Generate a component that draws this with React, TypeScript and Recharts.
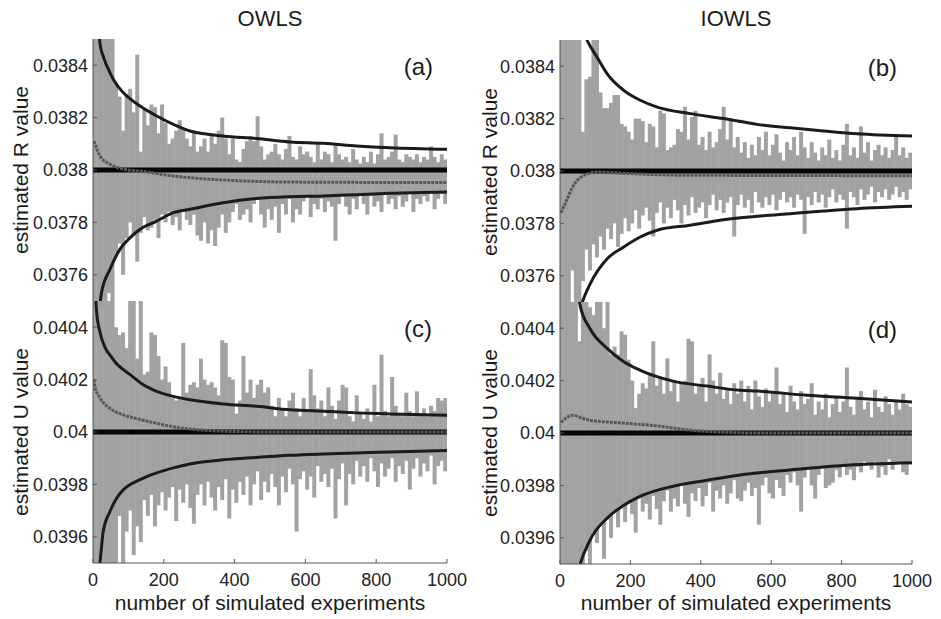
import React from 'react';
import { ComposedChart, Bar, Line, XAxis, YAxis, ReferenceLine } from 'recharts';

// one gray bar every 10 simulated experiments (N = 5, 15, ... 995)
const barN = Array.from({ length: 100 }, (_, i) => 5 + 10 * i);

// all spreads below are deviations from the true value, in units of 1e-6
const trueR = 0.038;
const trueU = 0.04;

// (a) OWLS, R
const aHigh = [
  600, 600, 600, 600, 520, 600, 330, 280, 150, 290, 310, 220, 440, 70, 230, 170, 250, 240, 140, 250,
  180, 100, 120, 150, 190, 160, 120, 90, 150, 70, 90, 120, 70, 140, 100, 150, 200, 120, 60, 120,
  40, 30, 80, 110, 130, 110, 205, 90, 40, 60, 70, 100, 60, 40, 80, 130, 50, 40, 90, 60,
  70, 50, 30, 100, 40, 70, 60, 30, 100, 60, 40, 50, 30, 80, 40, 25, 50, 30, 70, 25,
  60, 140, 40, 50, 70, 135, 40, 30, 60, 50, 40, 60, 30, 50, 40, 90, 50, 30, 60, 40,
];
const aLow = [
  -600, -600, -600, -600, -470, -600, -330, -280, -400, -260, -200, -250, -350, -240, -180, -230, -220, -190, -260, -170,
  -200, -160, -210, -180, -230, -150, -190, -210, -170, -250, -270, -200, -280, -230, -290, -220, -170, -240, -200, -160,
  -130, -190, -170, -150, -200, -130, -110, -170, -220, -150, -190, -140, -240, -130, -170, -110, -200, -150, -170, -120,
  -100, -180, -130, -150, -110, -160, -120, -140, -270, -130, -100, -140, -170, -110, -150, -90, -130, -170, -100, -140,
  -120, -160, -90, -130, -110, -150, -100, -140, -120, -90, -160, -110, -130, -100, -120, -80, -150, -110, -90, -130,
];
const aUpper = [[12, 600], [20, 480], [30, 430], [48, 371], [70, 320], [86, 295], [133, 244], [180, 206], [227, 174], [274, 149], [368, 130], [462, 120], [557, 107], [651, 102], [745, 92], [839, 85], [1000, 79]];
const aLower = [[14, -600], [24, -468], [48, -379], [76, -303], [105, -258], [133, -226], [180, -195], [227, -163], [274, -150], [368, -125], [462, -109], [557, -102], [651, -99], [745, -94], [839, -89], [1000, -84]];
const aMean = [[3, 110], [20, 53], [48, 22], [86, 3], [133, -4], [227, -23], [368, -38], [557, -46], [1000, -48]];

// (b) IOWLS, R
const bHigh = [
  600, 600, 600, 600, 600, 600, 150, 350, 360, 600, 600, 300, 240, 240, 260, 290, 290, 180, 170, 150,
  120, 200, 200, 190, 110, 180, 170, 90, 230, 220, 80, 90, 100, 160, 150, 245, 120, 206, 230, 100,
  130, 80, 150, 90, 110, 160, 245, 120, 200, 90, 130, 70, 110, 50, 100, 60, 130, 80, 150, 60,
  100, 140, 70, 40, 110, 80, 130, 60, 150, 90, 50, 110, 70, 40, 90, 60, 120, 50, 80, 40,
  100, 180, 60, 90, 50, 170, 70, 110, 40, 80, 100, 60, 90, 50, 80, 130, 60, 90, 50, 70,
];
const bLow = [
  -600, -600, -600, -380, -600, -600, -420, -300, -380, -280, -330, -250, -300, -220, -260, -200, -290, -240, -180, -230,
  -200, -150, -220, -170, -140, -190, -250, -160, -120, -200, -140, -180, -110, -150, -200, -130, -170, -100, -160, -140,
  -120, -180, -130, -90, -150, -110, -160, -120, -100, -250, -130, -90, -140, -110, -160, -80, -120, -140, -100, -130,
  -90, -150, -110, -80, -120, -100, -140, -90, -110, -240, -100, -130, -80, -120, -90, -140, -100, -70, -120, -90,
  -110, -220, -80, -100, -130, -70, -110, -90, -60, -120, -80, -100, -70, -110, -90, -60, -100, -80, -110, -70,
];
const bUpper = [[50, 620], [60, 560], [77, 499], [105, 435], [134, 371], [181, 308], [228, 270], [276, 244], [370, 219], [465, 200], [560, 178], [654, 165], [749, 153], [844, 142], [1000, 134]];
const bLower = [[40, -620], [62, -506], [86, -430], [134, -335], [181, -290], [228, -252], [276, -226], [370, -207], [465, -186], [560, -173], [654, -163], [749, -153], [844, -144], [1000, -135]];
const bMean = [[3, -160], [20, -108], [37, -58], [65, -19], [105, -4], [200, -10], [350, -16], [1000, -18]];

// (c) OWLS, U
const cHigh = [
  600, 600, 600, 600, 600, 600, 400, 370, 380, 320, 600, 600, 280, 600, 220, 230, 380, 370, 290, 200,
  250, 190, 130, 120, 130, 340, 150, 180, 190, 170, 280, 200, 180, 190, 170, 140, 350, 340, 210, 200,
  70, 120, 290, 150, 200, 130, 180, 200, 150, 170, 100, 60, 130, 90, 60, 120, 150, 90, 60, 130,
  80, 240, 140, 90, 120, 60, 170, 100, 50, 120, 180, 170, 60, 40, 140, 70, 50, 90, 40, 180,
  60, 295, 80, 60, 210, 100, 70, 60, 150, 80, 60, 155, 70, 90, 60, 100, 80, 130, 120, 130,
];
const cLow = [
  -600, -600, -600, -600, -600, -600, -600, -320, -600, -380, -300, -470, -360, -420, -260, -320, -240, -360, -280, -230,
  -300, -250, -210, -340, -220, -270, -200, -290, -350, -240, -200, -280, -190, -250, -300, -210, -260, -180, -330, -220,
  -270, -190, -240, -170, -280, -200, -150, -260, -190, -230, -160, -210, -280, -170, -230, -140, -200, -380, -180, -150,
  -220, -170, -250, -130, -190, -160, -210, -140, -330, -180, -120, -280, -160, -200, -110, -170, -130, -190, -100, -150,
  -210, -120, -170, -140, -100, -190, -130, -160, -110, -220, -140, -100, -170, -120, -150, -90, -200, -130, -110, -150,
];
const cUpper = [[5, 600], [10, 460], [20, 380], [35, 320], [50, 290], [67, 260], [86, 238], [105, 219], [142, 180], [180, 155], [227, 136], [274, 123], [368, 107], [462, 98], [557, 85], [651, 79], [745, 73], [839, 69], [1000, 64]];
const cLower = [[10, -600], [20, -494], [29, -379], [48, -303], [67, -252], [86, -220], [133, -182], [180, -156], [227, -137], [274, -122], [368, -106], [462, -97], [557, -89], [651, -84], [745, -80], [839, -76], [1000, -71]];
const cMean = [[3, 200], [6, 170], [20, 130], [48, 90], [86, 65], [133, 48], [180, 33], [227, 20], [300, 8], [400, 2], [500, 0], [1000, 0]];

// (d) IOWLS, U
const dHigh = [
  600, 600, 600, 600, 600, 350, 600, 520, 480, 450, 600, 600, 400, 600, 300, 330, 300, 388, 375, 280,
  200, 95, 150, 190, 170, 230, 350, 180, 210, 150, 285, 160, 200, 120, 190, 200, 360, 350, 150, 180,
  210, 120, 300, 200, 150, 230, 130, 170, 110, 190, 150, 200, 120, 180, 90, 200, 140, 100, 170, 120,
  160, 250, 110, 150, 80, 180, 120, 90, 160, 110, 130, 190, 70, 120, 90, 150, 60, 110, 140, 80,
  120, 250, 100, 70, 130, 160, 90, 120, 60, 165, 100, 80, 140, 110, 70, 120, 90, 150, 110, 100,
];
const dLow = [
  -600, -600, -600, -600, -600, -600, -600, -450, -520, -380, -420, -350, -480, -330, -400, -300, -360, -280, -340, -260,
  -310, -380, -250, -300, -270, -330, -240, -290, -350, -260, -220, -300, -250, -280, -200, -270, -320, -230, -260, -210,
  -280, -240, -190, -300, -220, -250, -200, -270, -230, -180, -250, -260, -220, -190, -240, -210, -350, -200, -170, -230,
  -250, -180, -210, -240, -160, -190, -150, -200, -300, -170, -140, -200, -250, -160, -130, -210, -200, -190, -140, -170,
  -120, -160, -140, -180, -130, -150, -110, -120, -140, -110, -170, -130, -160, -100, -140, -120, -110, -150, -160, -120,
];
const dUpper = [[30, 700], [50, 560], [57, 487], [85, 399], [134, 323], [179, 274], [227, 240], [321, 198], [418, 179], [511, 163], [560, 160], [702, 144], [844, 133], [1000, 118]];
const dLower = [[30, -700], [50, -540], [85, -410], [134, -325], [179, -278], [227, -242], [321, -203], [418, -180], [511, -160], [653, -141], [795, -125], [1000, -114]];
const dMean = [[3, 40], [15, 55], [37, 68], [60, 58], [85, 49], [179, 38], [276, 27], [369, 11], [460, 3], [560, 0], [1000, 0]];

const xTicks = [0, 200, 400, 600, 800, 1000];
const rTicks = [0.0376, 0.0378, 0.038, 0.0382, 0.0384];
const uTicks = [0.0396, 0.0398, 0.04, 0.0402, 0.0404];

const FONT = '"Liberation Sans", Arial, sans-serif';
const blank = () => <g />;

// recharts squeezes the bands on a number axis, so draw each spread at a fixed width
const SpreadBar = (props: any) => {
  const { x, y, width, height } = props;
  if (height == null || !isFinite(height)) return <g />;
  const top = height < 0 ? y + height : y;
  return <rect x={x + width / 2 - 2} y={top} width={4} height={Math.abs(height)} fill="#a2a2a2" />;
};

type Pt = number[];

const barRows = (truth: number, hi: number[], lo: number[]) =>
  barN.map((n, i) => ({ n, bar: [truth + lo[i] * 1e-6, truth + hi[i] * 1e-6] }));

const curveRows = (truth: number, pts: Pt[]) => pts.map(([n, v]) => ({ n, v: truth + v * 1e-6 }));

interface PanelProps {
  left: number;
  top: number;
  width: number;
  height: number;
  truth: number;
  ticks: number[];
  hi: number[];
  lo: number[];
  upper: Pt[];
  lower: Pt[];
  mean: Pt[];
  xLabels?: boolean;
}

function Panel({ left, top, width, height, truth, ticks, hi, lo, upper, lower, mean, xLabels = false }: PanelProps) {
  const yw = 93;
  const bottomH = xLabels ? 34 : 0;
  const tickStyle = { fill: '#222', fontSize: 18, fontFamily: FONT };
  const curve = { xAxisId: 'b', yAxisId: 'l', dataKey: 'v', type: 'monotone' as const, dot: false, isAnimationActive: false };
  return (
    <div style={{ position: 'absolute', left: left - yw, top: top - 6 }}>
      <ComposedChart
        width={width + yw + 30}
        height={height + 6 + bottomH + 2}
        data={barRows(truth, hi, lo)}
        margin={{ top: 6, right: 30, bottom: 2, left: 0 }}
      >
        <XAxis xAxisId="b" dataKey="n" type="number" domain={[0, 1000]} ticks={xTicks} interval={0}
          allowDataOverflow orientation="bottom" height={bottomH} tickSize={-4} tickMargin={14}
          stroke="#555" tick={xLabels ? tickStyle : blank} />
        <XAxis xAxisId="t" dataKey="n" type="number" domain={[0, 1000]} ticks={xTicks} interval={0}
          allowDataOverflow orientation="top" height={0} tickSize={-4} stroke="#555" tick={blank} />
        <YAxis yAxisId="l" type="number" domain={[truth - 0.0005, truth + 0.0005]} ticks={ticks} interval={0}
          allowDataOverflow width={yw} tickSize={-4} tickMargin={9} stroke="#555" tick={tickStyle}
          tickFormatter={(v: number) => String(v)} />
        <YAxis yAxisId="r" orientation="right" type="number" domain={[truth - 0.0005, truth + 0.0005]}
          ticks={ticks} interval={0} allowDataOverflow width={0} tickSize={-4} stroke="#555" tick={blank} />

        <Bar xAxisId="b" yAxisId="l" dataKey="bar" fill="#a2a2a2" shape={SpreadBar} isAnimationActive={false} />
        <ReferenceLine xAxisId="b" yAxisId="l" y={truth} stroke="#050505" strokeWidth={5} />
        <Line {...curve} data={curveRows(truth, mean)} stroke="#585858" strokeWidth={3} strokeDasharray="3 1" />
        <Line {...curve} data={curveRows(truth, upper)} stroke="#1b1b1b" strokeWidth={3} />
        <Line {...curve} data={curveRows(truth, lower)} stroke="#1b1b1b" strokeWidth={3} />
      </ComposedChart>
    </div>
  );
}

export default function App() {
  const txt = { fontFamily: FONT, fill: '#1a1a1a' };

  return (
    <div style={{ position: 'absolute', left: 0, top: 0, width: 941, height: 619, background: '#fff' }}>
      <Panel left={93} top={39} width={354} height={262} truth={trueR} ticks={rTicks}
        hi={aHigh} lo={aLow} upper={aUpper} lower={aLower} mean={aMean} />
      <Panel left={93} top={301} width={354} height={262} truth={trueU} ticks={uTicks}
        hi={cHigh} lo={cLow} upper={cUpper} lower={cLower} mean={cMean} xLabels />
      <Panel left={560} top={40} width={352} height={262} truth={trueR} ticks={rTicks}
        hi={bHigh} lo={bLow} upper={bUpper} lower={bLower} mean={bMean} />
      <Panel left={560} top={302} width={352} height={262} truth={trueU} ticks={uTicks}
        hi={dHigh} lo={dLow} upper={dUpper} lower={dLower} mean={dMean} xLabels />

      <svg width={941} height={619} style={{ position: 'absolute', left: 0, top: 0, pointerEvents: 'none' }}>
        <text x={270} y={26} textAnchor="middle" fontSize={22} {...txt}>OWLS</text>
        <text x={736} y={26} textAnchor="middle" fontSize={22} {...txt}>IOWLS</text>

        <text x={433} y={75} textAnchor="end" fontSize={24} {...txt}>(a)</text>
        <text x={897} y={76} textAnchor="end" fontSize={24} {...txt}>(b)</text>
        <text x={432} y={337} textAnchor="end" fontSize={24} {...txt}>(c)</text>
        <text x={897} y={338} textAnchor="end" fontSize={24} {...txt}>(d)</text>

        <text transform="translate(28,170) rotate(-90)" textAnchor="middle" fontSize={21} {...txt}>estimated R value</text>
        <text transform="translate(28,432) rotate(-90)" textAnchor="middle" fontSize={21} {...txt}>estimated U value</text>
        <text transform="translate(497,172) rotate(-90)" textAnchor="middle" fontSize={21} {...txt}>estimated R value</text>
        <text transform="translate(497,433) rotate(-90)" textAnchor="middle" fontSize={21} {...txt}>estimated U value</text>

        <text x={270} y={610} textAnchor="middle" fontSize={21} {...txt}>number of simulated experiments</text>
        <text x={736} y={610} textAnchor="middle" fontSize={21} {...txt}>number of simulated experiments</text>
      </svg>
    </div>
  );
}
